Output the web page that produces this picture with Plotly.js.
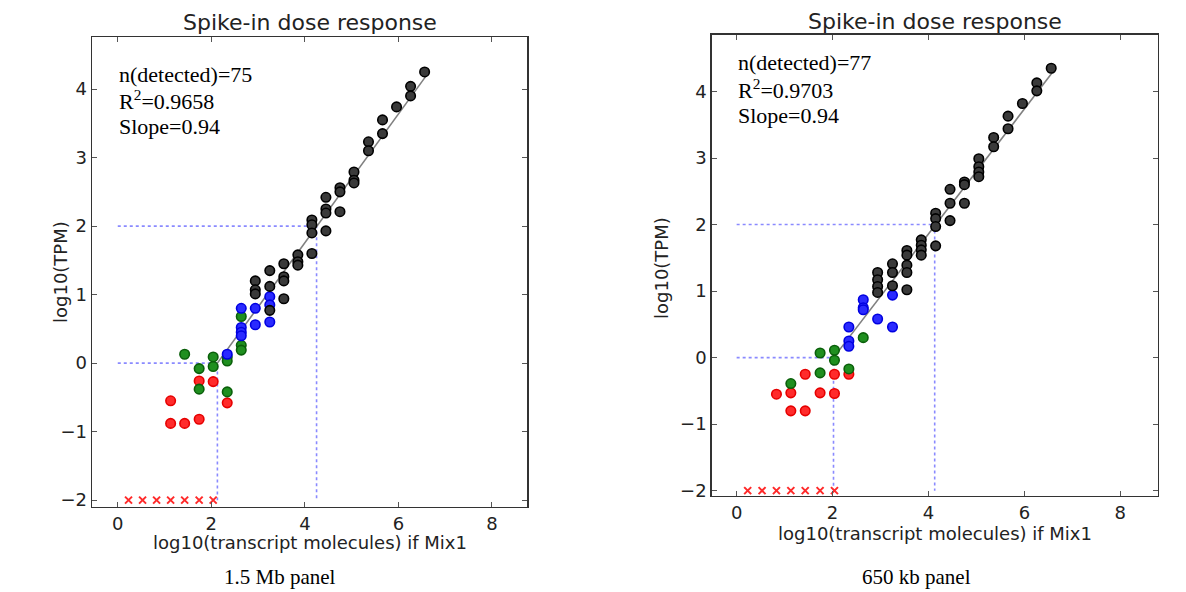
<!DOCTYPE html>
<html>
<head>
<meta charset="utf-8">
<script src="https://cdn.plot.ly/plotly-3.0.1.min.js"></script>
<style>html,body{margin:0;padding:0;background:#fff;}#chart{width:1186px;height:592px;}</style>
</head>
<body>
<div id="chart"></div>
<script>
// ---------- Left panel (1.5 Mb) ----------
const undetL_x = [0.23, 0.53, 0.83, 1.13, 1.43, 1.74, 2.04];
const undetL_y = [-2, -2, -2, -2, -2, -2, -2];
const redL_x = [1.13, 1.13, 1.43, 1.74, 1.74, 2.04, 2.34];
const redL_y = [-0.55, -0.88, -0.88, -0.82, -0.26, -0.27, -0.58];
const greenL_x = [1.43, 1.74, 1.74, 2.04, 2.04, 2.34, 2.34, 2.34, 2.64, 2.64, 2.64];
const greenL_y = [0.13, -0.08, -0.38, 0.09, -0.05, 0.09, 0.03, -0.42, 0.68, 0.26, 0.19];
const blueL_x = [2.34, 2.64, 2.64, 2.64, 2.64, 2.94, 2.94, 3.25, 3.25, 3.25];
const blueL_y = [0.13, 0.80, 0.52, 0.45, 0.40, 0.80, 0.56, 0.97, 0.85, 0.60];
const blackL_x = [2.94, 2.94, 2.94, 3.25, 3.25, 3.25, 3.55, 3.55, 3.55, 3.55,
                  3.85, 3.85, 3.85, 4.15, 4.15, 4.15, 4.15, 4.45, 4.45, 4.45, 4.45,
                  4.75, 4.75, 4.75, 5.05, 5.05, 5.05, 5.36, 5.36, 5.66, 5.66,
                  5.96, 6.26, 6.26, 6.56];
const blackL_y = [1.20, 1.07, 1.01, 1.35, 1.12, 0.77, 1.45, 1.26, 1.20, 0.94,
                  1.58, 1.48, 1.43, 2.09, 2.02, 1.90, 1.60, 2.42, 2.25, 2.19, 1.93,
                  2.56, 2.50, 2.21, 2.79, 2.67, 2.63, 3.23, 3.10, 3.55, 3.35,
                  3.74, 4.04, 3.90, 4.25];
const fitL_x = [2.13, 6.60];
const fitL_y = [0.00, 4.20];
const guideL_low = 2.13;   // x where fit reaches log10(TPM)=0
const guideL_high = 4.25;  // x where fit reaches log10(TPM)=2
const statsL = ["n(detected)=75", "R<sup>2</sup>=0.9658", "Slope=0.94"];

// ---------- Right panel (650 kb) ----------
const undetR_x = [0.23, 0.53, 0.83, 1.13, 1.43, 1.74, 2.04];
const undetR_y = [-2, -2, -2, -2, -2, -2, -2];
const redR_x = [0.83, 1.13, 1.13, 1.43, 1.43, 1.74, 2.04, 2.04, 2.34];
const redR_y = [-0.55, -0.53, -0.80, -0.80, -0.25, -0.53, -0.25, -0.54, -0.25];
const greenR_x = [1.13, 1.74, 1.74, 2.04, 2.04, 2.34, 2.64];
const greenR_y = [-0.39, 0.07, -0.23, 0.11, -0.04, -0.17, 0.30];
const blueR_x = [2.34, 2.34, 2.34, 2.64, 2.64, 2.64, 2.94, 3.25, 3.25];
const blueR_y = [0.46, 0.25, 0.17, 0.87, 0.75, 0.72, 0.58, 0.94, 0.46];
const blackR_x = [2.94, 2.94, 2.94, 2.94, 3.25, 3.25, 3.25,
                  3.55, 3.55, 3.55, 3.55, 3.55, 3.85, 3.85, 3.85, 3.85,
                  4.15, 4.15, 4.15, 4.15, 4.45, 4.45, 4.45, 4.75, 4.75, 4.75,
                  5.05, 5.05, 5.05, 5.05, 5.36, 5.36, 5.66, 5.66, 5.96,
                  6.26, 6.26, 6.56];
const blackR_y = [1.28, 1.17, 1.07, 0.98, 1.41, 1.28, 1.08,
                  1.61, 1.54, 1.39, 1.28, 1.02, 1.77, 1.69, 1.62, 1.54,
                  2.17, 2.09, 1.97, 1.68, 2.53, 2.32, 2.06, 2.64, 2.60, 2.32,
                  2.99, 2.87, 2.79, 2.72, 3.31, 3.17, 3.63, 3.44, 3.82,
                  4.13, 4.01, 4.35];
const fitR_x = [2.02, 6.60];
const fitR_y = [0.00, 4.30];
const guideR_low = 2.02;
const guideR_high = 4.13;
const statsR = ["n(detected)=77", "R<sup>2</sup>=0.9703", "Slope=0.94"];

const panelTitle = "Spike-in dose response";
const xLabel = "log10(transcript molecules) if Mix1";
const yLabel = "log10(TPM)";
const captions = ["1.5 Mb panel", "650 kb panel"];
const tickVals_x = [0, 2, 4, 6, 8];
const tickVals_y = [-2, -1, 0, 1, 2, 3, 4];

// ---------- build ----------
function circles(x, y, fill, edge, xa, ya) {
  return {x: x, y: y, xaxis: xa, yaxis: ya, type: 'scatter', mode: 'markers',
    hoverinfo: 'skip', showlegend: false,
    marker: {symbol: 'circle', size: 9.5, color: fill, line: {color: edge, width: 1.6}}};
}
function crosses(x, y, xa, ya) {
  return {x: x, y: y, xaxis: xa, yaxis: ya, type: 'scatter', mode: 'markers',
    hoverinfo: 'skip', showlegend: false,
    marker: {symbol: 'x-thin', size: 7, color: '#ff2a2a', line: {color: '#ff2a2a', width: 2}}};
}
function line(x, y, color, dash, width, xa, ya) {
  return {x: x, y: y, xaxis: xa, yaxis: ya, type: 'scatter', mode: 'lines',
    hoverinfo: 'skip', showlegend: false,
    line: {color: color, dash: dash, width: width}};
}
function guides(low, high, xa, ya) {
  const c = '#8a8aff';
  return [
    line([0, high, high], [2, 2, -2], c, 'dot', 1.6, xa, ya),
    line([0, low, low], [0, 0, -2], c, 'dot', 1.6, xa, ya)
  ];
}
function panel(xa, ya, d) {
  return [
    ...guides(d.low, d.high, xa, ya),
    line(d.fx, d.fy, '#808080', 'solid', 1.6, xa, ya),
    crosses(d.ux, d.uy, xa, ya),
    circles(d.rx, d.ry, '#ff2b2b', '#e60000', xa, ya),
    circles(d.gx, d.gy, '#1f8f1f', '#0a5f0a', xa, ya),
    circles(d.bx, d.by, '#2a2aff', '#0000e0', xa, ya),
    circles(d.kx, d.ky, '#3a3a3a', '#000000', xa, ya)
  ];
}

const data = [
  ...panel('x', 'y', {low: guideL_low, high: guideL_high, fx: fitL_x, fy: fitL_y,
    ux: undetL_x, uy: undetL_y, rx: redL_x, ry: redL_y, gx: greenL_x, gy: greenL_y,
    bx: blueL_x, by: blueL_y, kx: blackL_x, ky: blackL_y}),
  ...panel('x2', 'y2', {low: guideR_low, high: guideR_high, fx: fitR_x, fy: fitR_y,
    ux: undetR_x, uy: undetR_y, rx: redR_x, ry: redR_y, gx: greenR_x, gy: greenR_y,
    bx: blueR_x, by: blueR_y, kx: blackR_x, ky: blackR_y})
];

const tickFont = {family: 'DejaVu Sans', size: 18, color: '#222'};
function axis(extra) {
  return Object.assign({
    showgrid: false, zeroline: false, showline: true, mirror: 'allticks',
    linecolor: '#333', linewidth: 1.5, ticks: 'inside', ticklen: 5, tickwidth: 1,
    tickcolor: '#555', tickfont: tickFont, fixedrange: true
  }, extra);
}

const serif = {family: 'Liberation Serif', size: 22, color: '#000'};
const sans = {family: 'DejaVu Sans', size: 18, color: '#222'};
const annotations = [];
function addText(text, x, y, font, opts) {
  annotations.push(Object.assign({text: text, x: x / 1186, y: 1 - y / 592,
    xref: 'paper', yref: 'paper', showarrow: false, font: font,
    xanchor: 'center', yanchor: 'middle'}, opts || {}));
}
// titles
addText(panelTitle, 310, 22, {family: 'DejaVu Sans', size: 22, color: '#222'});
addText(panelTitle, 935, 21, {family: 'DejaVu Sans', size: 22, color: '#222'});
// axis labels
addText(xLabel, 310, 542, sans);
addText(xLabel, 935, 533, sans);
addText(yLabel, 60, 272, sans, {textangle: -90});
addText(yLabel, 662, 268, sans, {textangle: -90});
// stats
[74, 100, 126].forEach((yy, i) => addText(statsL[i], 117, yy, serif, {xanchor: 'left'}));
[63, 89, 115].forEach((yy, i) => addText(statsR[i], 736, yy, serif, {xanchor: 'left'}));
// captions
addText(captions[0], 280, 577, {family: 'Liberation Serif', size: 21, color: '#000'});
addText(captions[1], 916, 577, {family: 'Liberation Serif', size: 21, color: '#000'});

const layout = {
  width: 1186, height: 592,
  margin: {l: 0, r: 0, t: 0, b: 0},
  paper_bgcolor: '#ffffff', plot_bgcolor: '#ffffff',
  showlegend: false,
  xaxis: axis({domain: [0.0776, 0.4444], range: [-0.55, 8.75], tickvals: tickVals_x, anchor: 'y'}),
  yaxis: axis({domain: [0.1436, 0.9375], range: [-2.1, 4.76], tickvals: tickVals_y, anchor: 'x'}),
  xaxis2: axis({domain: [0.6001, 0.9761], range: [-0.52, 8.78], tickvals: tickVals_x, anchor: 'y2'}),
  yaxis2: axis({domain: [0.1622, 0.9409], range: [-2.08, 4.85], tickvals: tickVals_y, anchor: 'x2'}),
  annotations: annotations
};

Plotly.newPlot('chart', data, layout, {displayModeBar: false, staticPlot: true});
</script>
</body>
</html>
